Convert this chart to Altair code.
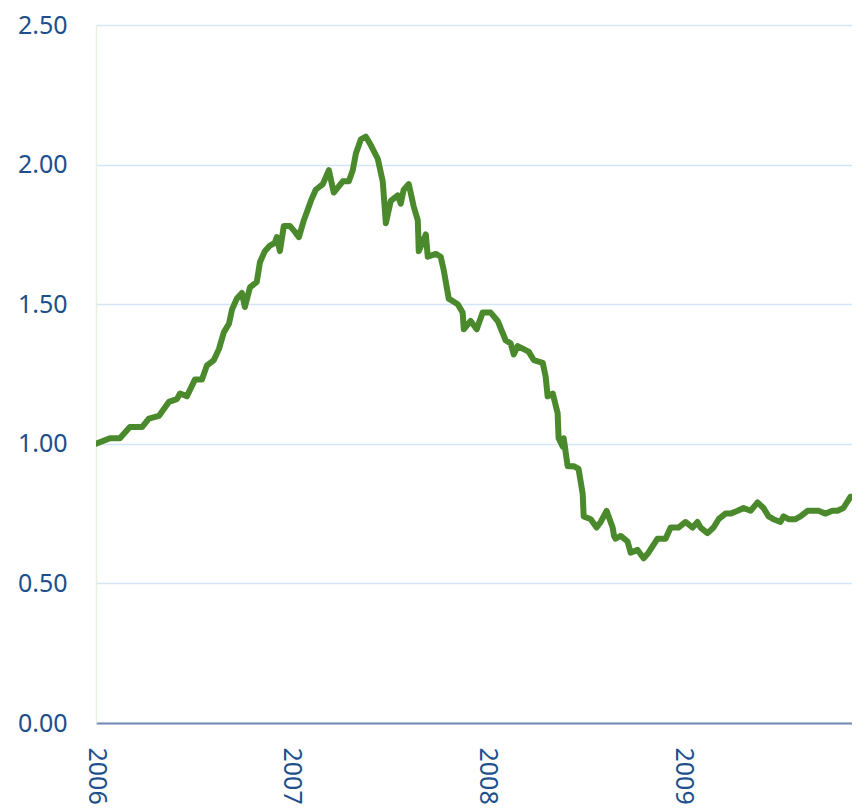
import altair as alt
import pandas as pd

# decimal year positions of sampled points
years = [
    2006.000, 2006.071, 2006.122, 2006.173, 2006.235, 2006.270, 2006.321, 2006.372,
    2006.413, 2006.429, 2006.464, 2006.505, 2006.541, 2006.566, 2006.602, 2006.628,
    2006.653, 2006.679, 2006.694, 2006.719, 2006.745, 2006.760, 2006.786, 2006.821,
    2006.837, 2006.862, 2006.888, 2006.913, 2006.923, 2006.939, 2006.959, 2006.990,
    2007.015, 2007.036, 2007.061, 2007.097, 2007.122, 2007.158, 2007.189, 2007.214,
    2007.260, 2007.291, 2007.311, 2007.327, 2007.352, 2007.378, 2007.403, 2007.439,
    2007.464, 2007.480, 2007.505, 2007.541, 2007.556, 2007.571, 2007.597, 2007.622,
    2007.643, 2007.648, 2007.684, 2007.694, 2007.735, 2007.760, 2007.776, 2007.801,
    2007.847, 2007.872, 2007.878, 2007.913, 2007.944, 2007.974, 2008.015, 2008.051,
    2008.092, 2008.117, 2008.133, 2008.153, 2008.209, 2008.235, 2008.281, 2008.296,
    2008.306, 2008.332, 2008.357, 2008.362, 2008.383, 2008.388, 2008.408, 2008.439,
    2008.464, 2008.485, 2008.490, 2008.526, 2008.556, 2008.577, 2008.607, 2008.638,
    2008.645, 2008.653, 2008.679, 2008.714, 2008.730, 2008.765, 2008.796, 2008.821,
    2008.867, 2008.908, 2008.934, 2008.974, 2009.010, 2009.046, 2009.071, 2009.087,
    2009.122, 2009.153, 2009.179, 2009.214, 2009.240, 2009.276, 2009.306, 2009.342,
    2009.378, 2009.408, 2009.434, 2009.459, 2009.495, 2009.510, 2009.536, 2009.571,
    2009.597, 2009.633, 2009.663, 2009.689, 2009.724, 2009.760, 2009.786, 2009.816,
    2009.852, 2009.878, 2009.900,
]
values = [
    1.00, 1.02, 1.02, 1.06, 1.06, 1.09, 1.10, 1.15,
    1.16, 1.18, 1.17, 1.23, 1.23, 1.28, 1.30, 1.34,
    1.40, 1.43, 1.48, 1.52, 1.54, 1.49, 1.56, 1.58,
    1.65, 1.69, 1.71, 1.72, 1.74, 1.69, 1.78, 1.78,
    1.76, 1.74, 1.80, 1.87, 1.91, 1.93, 1.98, 1.90,
    1.94, 1.94, 1.98, 2.04, 2.09, 2.10, 2.07, 2.02,
    1.94, 1.79, 1.87, 1.89, 1.86, 1.91, 1.93, 1.85,
    1.80, 1.69, 1.75, 1.67, 1.68, 1.67, 1.62, 1.52,
    1.50, 1.47, 1.41, 1.44, 1.41, 1.47, 1.47, 1.44,
    1.37, 1.36, 1.32, 1.35, 1.33, 1.30, 1.29, 1.24,
    1.17, 1.18, 1.11, 1.02, 0.99, 1.02, 0.92, 0.92,
    0.91, 0.82, 0.74, 0.73, 0.70, 0.72, 0.76, 0.70,
    0.67, 0.66, 0.67, 0.65, 0.61, 0.62, 0.59, 0.61,
    0.66, 0.66, 0.70, 0.70, 0.72, 0.70, 0.72, 0.70,
    0.68, 0.70, 0.73, 0.75, 0.75, 0.76, 0.77, 0.76,
    0.79, 0.77, 0.74, 0.73, 0.72, 0.74, 0.73, 0.73,
    0.74, 0.76, 0.76, 0.76, 0.75, 0.76, 0.76, 0.77,
    0.81, 0.81, 0.80,
]
y_ticks = [0.0, 0.5, 1.0, 1.5, 2.0, 2.5]
x_ticks = [2006, 2007, 2008, 2009]

df = pd.DataFrame({"year": years, "value": values})

FONT = "Noto Sans"
LABEL_COLOR = "#1d4f8c"

chart = alt.Chart(df).mark_line(
    color="#4a8a2c", strokeWidth=6, strokeJoin="round", strokeCap="round", clip=True
).encode(
    x=alt.X(
        "year:Q",
        scale=alt.Scale(domain=[2006, 2009.86], nice=False, zero=False),
        axis=alt.Axis(
            values=x_ticks, format="d", title=None, grid=False, ticks=False,
            labelAngle=90, labelPadding=24, labelFontSize=25, labelFont=FONT,
            labelColor=LABEL_COLOR, domainColor="#7388b3", domainWidth=2,
            labelOverlap=False, labelFlush=False,
        ),
    ),
    y=alt.Y(
        "value:Q",
        scale=alt.Scale(domain=[0, 2.5], nice=False),
        axis=alt.Axis(
            values=y_ticks, format=".2f", title=None, grid=True, ticks=False,
            gridColor="#d3e5f6", gridWidth=1.5, labelPadding=29,
            labelFontSize=25, labelFont=FONT, labelColor=LABEL_COLOR,
            domainColor="#e8f1df", domainWidth=1.5, labelOverlap=False,
        ),
    ),
).properties(
    width=756,
    height=698,
    autosize=alt.AutoSizeParams(type="none"),
    padding={"left": 88, "top": 17, "right": 0, "bottom": 81},
).configure_view(stroke=None)

chart.save("out.html", embed_options={"renderer": "svg", "actions": False})
